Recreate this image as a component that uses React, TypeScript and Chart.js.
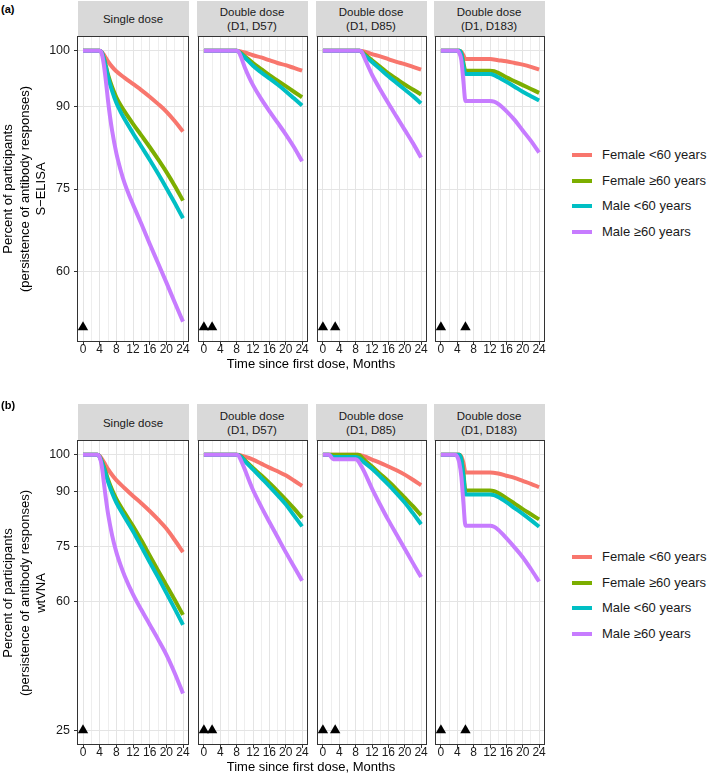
import React, { useEffect, useRef } from 'react';
import { Chart, registerables } from 'chart.js';

Chart.register(...registerables);

type Pt = [number, number];

const FONT = '"Liberation Sans", Arial, Helvetica, sans-serif';

const SERIES = ['Female <60 years', 'Female ≥60 years', 'Male <60 years', 'Male ≥60 years'];
const COLORS = ['#F8766D', '#7CAE00', '#00BFC4', '#C77CFF'];
const FACETS = [['Single dose'], ['Double dose', '(D1, D57)'], ['Double dose', '(D1, D85)'], ['Double dose', '(D1, D183)']];
const DOSE_MONTHS = [[0], [0, 2], [0, 3], [0, 6]];
const X_TICKS = [0, 4, 8, 12, 16, 20, 24];
const X_GRID = [0, 2, 4, 6, 8, 10, 12, 14, 16, 18, 20, 22, 24];
const Y_TICKS_A = [60, 75, 90, 100];
const Y_TICKS_B = [25, 60, 75, 90, 100];
const Y_TITLE_A = ['Percent of participants', '(persistence of antibody responses)', 'S−ELISA'];
const Y_TITLE_B = ['Percent of participants', '(persistence of antibody responses)', 'wtVNA'];
const X_TITLE = 'Time since first dose, Months';

// ---- (a) S-ELISA ----
const A1_F_U60: Pt[] = [[0, 100], [4, 100], [4.5, 99.8], [5, 99.3], [6, 98.1], [7, 97.1], [8, 96.3], [10, 95.1], [12, 94], [14, 92.9], [16, 91.7], [18, 90.4], [20, 89], [22, 87.3], [24, 85.4]];
const A1_F_60: Pt[] = [[0, 100], [4, 100], [4.5, 99.7], [5, 98.7], [5.5, 97.2], [6, 95.7], [7, 93.4], [8, 91.6], [9, 90.2], [10, 89], [12, 86.8], [14, 84.7], [16, 82.6], [18, 80.4], [20, 78.1], [22, 75.6], [24, 72.9]];
const A1_M_U60: Pt[] = [[0, 100], [4, 100], [4.5, 99.7], [5, 98.6], [5.5, 97], [6, 95.3], [7, 92.7], [8, 90.6], [9, 89], [10, 87.6], [12, 85.1], [14, 82.7], [16, 80.3], [18, 77.8], [20, 75.2], [22, 72.5], [24, 69.7]];
const A1_M_60: Pt[] = [[0, 100], [4, 100], [4.5, 99.5], [5, 97.5], [5.5, 94.5], [6, 91], [6.5, 88], [7, 85.5], [8, 81.5], [9, 78.5], [10, 76], [11, 74], [12, 72.2], [14, 68.7], [16, 65.1], [18, 61.6], [20, 58.1], [22, 54.5], [24, 51]];

const A2_F_U60: Pt[] = [[0, 100], [8, 100], [9, 99.9], [10, 99.7], [12, 99.2], [14, 98.8], [16, 98.3], [18, 97.8], [20, 97.4], [22, 96.9], [24, 96.4]];
const A2_F_60: Pt[] = [[0, 100], [8, 100], [9, 99.6], [10, 99], [12, 97.8], [14, 96.7], [16, 95.6], [18, 94.6], [20, 93.6], [22, 92.6], [24, 91.6]];
const A2_M_U60: Pt[] = [[0, 100], [8, 100], [9, 99.5], [10, 98.8], [12, 97.3], [14, 96.1], [16, 95], [18, 93.9], [20, 92.7], [22, 91.4], [24, 90.1]];
const A2_M_60: Pt[] = [[0, 100], [8, 100], [8.5, 99.8], [9, 99], [10, 97], [11, 95.3], [12, 93.8], [14, 91.3], [16, 89.1], [18, 87], [20, 84.9], [22, 82.6], [24, 80]];

const A3_F_U60: Pt[] = [[0, 100], [9, 100], [10, 99.9], [12, 99.4], [14, 99], [16, 98.5], [18, 98], [20, 97.6], [22, 97.1], [24, 96.6]];
const A3_F_60: Pt[] = [[0, 100], [9, 100], [10, 99.5], [12, 98.3], [14, 97.1], [16, 95.9], [18, 94.9], [20, 93.9], [22, 93], [24, 92.1]];
const A3_M_U60: Pt[] = [[0, 100], [9, 100], [10, 99.3], [12, 98], [14, 96.7], [16, 95.4], [18, 94.2], [20, 93], [22, 91.8], [24, 90.5]];
const A3_M_60: Pt[] = [[0, 100], [9, 100], [9.5, 99.8], [10, 99], [11, 97.3], [12, 95.7], [13, 94.3], [14, 93], [16, 90.5], [18, 88.1], [20, 85.7], [22, 83.3], [24, 80.7]];

const A4_F_U60: Pt[] = [[0, 100], [4.5, 100], [5, 99.8], [5.5, 99.2], [6, 98.5], [12, 98.5], [14, 98.3], [16, 98.1], [18, 97.8], [20, 97.5], [22, 97.1], [24, 96.6]];
const A4_F_60: Pt[] = [[0, 100], [4.5, 100], [5, 99.5], [5.5, 97.8], [6, 96.4], [12, 96.4], [13, 96.3], [14, 96], [16, 95.2], [18, 94.5], [20, 93.8], [22, 93.1], [24, 92.4]];
const A4_M_U60: Pt[] = [[0, 100], [4.5, 100], [5, 99.4], [5.5, 97.3], [6, 95.8], [12, 95.8], [13, 95.6], [14, 95.2], [16, 94.4], [18, 93.5], [20, 92.6], [22, 91.8], [24, 91]];
const A4_M_60: Pt[] = [[0, 100], [4, 100], [4.5, 99.6], [5, 98.3], [5.5, 94.5], [6, 90.9], [12, 90.9], [13, 90.8], [14, 90.4], [16, 89.1], [18, 87.5], [20, 85.6], [22, 83.7], [24, 81.6]];

// ---- (b) wtVNA ----
const B1_F_U60: Pt[] = [[0, 100], [3.5, 100], [4, 99.7], [5, 98], [6, 96.1], [7, 94.5], [8, 93.1], [10, 90.9], [12, 88.8], [14, 86.8], [16, 84.7], [18, 82.4], [20, 79.9], [22, 76.8], [24, 73.5]];
const B1_F_60: Pt[] = [[0, 100], [3.5, 100], [4, 99.5], [5, 96.8], [6, 93.3], [7, 90.4], [8, 88], [10, 84.2], [12, 80.6], [14, 76.7], [16, 72.6], [18, 68.5], [20, 64.5], [22, 60.5], [24, 56.4]];
const B1_M_U60: Pt[] = [[0, 100], [3.5, 100], [4, 99.4], [5, 96.4], [6, 92.7], [7, 89.6], [8, 87], [10, 83], [12, 79.2], [14, 75], [16, 70.8], [18, 66.7], [20, 62.4], [22, 58.1], [24, 53.7]];
const B1_M_60: Pt[] = [[0, 100], [3.5, 100], [4, 99.3], [4.5, 97], [5, 92.5], [5.5, 88], [6, 84], [7, 78], [8, 73.5], [9, 70], [10, 67], [12, 62], [14, 57.8], [16, 53.8], [18, 49.8], [20, 45.6], [22, 40.6], [24, 35]];

const B2_F_U60: Pt[] = [[0, 100], [8, 100], [10, 99.5], [12, 98.7], [14, 97.6], [16, 96.5], [18, 95.5], [20, 94.4], [22, 93], [24, 91.5]];
const B2_F_60: Pt[] = [[0, 100], [8, 100], [9, 99.6], [10, 98.5], [12, 96.4], [14, 94.4], [16, 92.3], [18, 90.1], [20, 87.8], [22, 85.4], [24, 82.8]];
const B2_M_U60: Pt[] = [[0, 100], [8, 100], [9, 99.5], [10, 98.3], [12, 96], [14, 93.7], [16, 91.4], [18, 89], [20, 86.5], [22, 83.5], [24, 80.5]];
const B2_M_60: Pt[] = [[0, 100], [8, 100], [8.5, 99.7], [9, 98.6], [10, 96], [11, 93.1], [12, 90.4], [14, 85.9], [16, 81.7], [18, 77.6], [20, 73.5], [22, 69.6], [24, 65.7]];

const B3_F_U60: Pt[] = [[0, 100], [8.5, 100], [10, 99.6], [12, 98.7], [14, 97.8], [16, 96.8], [18, 95.8], [20, 94.6], [22, 93.2], [24, 91.7]];
const B3_F_60: Pt[] = [[0, 100], [8.5, 100], [9, 99.8], [10, 98.7], [12, 96.8], [14, 94.8], [16, 92.8], [18, 90.6], [20, 88.3], [22, 86], [24, 83.5]];
const B3_M_U60: Pt[] = [[0, 100], [1.5, 100], [2.5, 99.4], [8, 99.4], [9, 99], [10, 98], [12, 96.2], [14, 94.1], [16, 91.9], [18, 89.5], [20, 87], [22, 84.1], [24, 81.1]];
const B3_M_60: Pt[] = [[0, 100], [1.5, 100], [2.5, 98.8], [8, 98.8], [8.5, 98.5], [9, 97.6], [10, 95.6], [12, 90.8], [14, 86.4], [16, 82.2], [18, 78.3], [20, 74.4], [22, 70.5], [24, 66.7]];

const B4_F_U60: Pt[] = [[0, 100], [4.5, 100], [5, 99.5], [5.5, 97.8], [6, 95.2], [12, 95.2], [14, 94.9], [16, 94.3], [18, 93.7], [20, 92.9], [22, 92.1], [24, 91.2]];
const B4_F_60: Pt[] = [[0, 100], [4.5, 100], [5, 98.8], [5.5, 95], [6, 90.3], [12, 90.3], [13, 90.1], [14, 89.6], [16, 88.2], [18, 86.7], [20, 85.2], [22, 83.8], [24, 82.4]];
const B4_M_U60: Pt[] = [[0, 100], [4.5, 100], [5, 98.6], [5.5, 94.2], [6, 89.2], [12, 89.2], [13, 89], [14, 88.5], [16, 87.1], [18, 85.5], [20, 83.9], [22, 82.2], [24, 80.4]];
const B4_M_60: Pt[] = [[0, 100], [3.5, 100], [4, 99.5], [4.5, 97.8], [5, 94], [5.5, 87], [6, 80.7], [12, 80.7], [13, 80.4], [14, 79.6], [16, 77.3], [18, 74.8], [20, 72.1], [22, 68.9], [24, 65.5]];

const ROW_A = [
  [A1_F_U60, A1_F_60, A1_M_U60, A1_M_60],
  [A2_F_U60, A2_F_60, A2_M_U60, A2_M_60],
  [A3_F_U60, A3_F_60, A3_M_U60, A3_M_60],
  [A4_F_U60, A4_F_60, A4_M_U60, A4_M_60],
];
const ROW_B = [
  [B1_F_U60, B1_F_60, B1_M_U60, B1_M_60],
  [B2_F_U60, B2_F_60, B2_M_U60, B2_M_60],
  [B3_F_U60, B3_F_60, B3_M_U60, B3_M_60],
  [B4_F_U60, B4_F_60, B4_M_U60, B4_M_60],
];

// ---- layout ----
const PANEL_LEFTS = [78, 197, 316, 434];
const PANEL_W = 110;
const Y_AXIS_W = 44;
const PAD_L = 4;
const PAD_R = 10;
const PAD_T = 6;
const X_AXIS_H = 22;

const borderPlugin = {
  id: 'panelBorder',
  afterDatasetsDraw(chart: any) {
    const { ctx, chartArea } = chart;
    ctx.save();
    ctx.strokeStyle = '#333333';
    ctx.lineWidth = 1;
    ctx.strokeRect(chartArea.left - 0.5, chartArea.top - 0.5, chartArea.right - chartArea.left + 1, chartArea.bottom - chartArea.top + 1);
    ctx.restore();
  },
};

interface PanelProps {
  col: number;
  left: number;
  top: number;
  height: number;
  series: Pt[][];
  yMin: number;
  yMax: number;
  yTicks: number[];
  triY: number;
}

function Panel({ col, left, top, height, series, yMin, yMax, yTicks, triY }: PanelProps) {
  const ref = useRef<HTMLCanvasElement>(null);
  const L = col === 0 ? Y_AXIS_W : PAD_L;
  const W = L + PANEL_W + PAD_R;
  const H = PAD_T + height + X_AXIS_H;

  useEffect(() => {
    if (!ref.current) return;
    const datasets: any[] = series.map((s, i) => ({
      type: 'line',
      label: SERIES[i],
      data: s.map(([x, y]) => ({ x, y })),
      borderColor: COLORS[i],
      backgroundColor: COLORS[i],
      borderWidth: 4,
      borderCapStyle: 'butt',
      borderJoinStyle: 'round',
      pointRadius: 0,
      cubicInterpolationMode: 'monotone',
      fill: false,
      order: 4 - i,
    }));
    datasets.push({
      type: 'scatter',
      label: 'dose',
      data: DOSE_MONTHS[col].map((x) => ({ x, y: triY })),
      pointStyle: 'triangle',
      pointRadius: 6,
      backgroundColor: '#000000',
      borderColor: '#000000',
      borderWidth: 0,
      order: -1,
    });
    const chart = new Chart(ref.current, {
      type: 'line',
      data: { datasets },
      plugins: [borderPlugin],
      options: {
        animation: false,
        responsive: false,
        devicePixelRatio: 1,
        events: [],
        layout: { padding: { left: col === 0 ? 0 : PAD_L, right: PAD_R, top: PAD_T, bottom: 0 } },
        plugins: { legend: { display: false }, tooltip: { enabled: false }, title: { display: false } },
        scales: {
          x: {
            type: 'linear',
            min: -1.2,
            max: 25.2,
            afterBuildTicks: (s: any) => {
              s.ticks = X_GRID.map((v) => ({ value: v }));
            },
            afterFit: (s: any) => {
              s.height = X_AXIS_H;
              s.paddingLeft = 0;
              s.paddingRight = 0;
            },
            ticks: {
              autoSkip: false,
              maxRotation: 0,
              minRotation: 0,
              padding: -1,
              color: '#1a1a1a',
              font: { family: FONT, size: 12, lineHeight: 1 },
              callback: (v: any) => (X_TICKS.includes(Number(v)) ? String(v) : ''),
            },
            grid: {
              color: (ctx: any) => (ctx.tick && ctx.tick.value % 4 === 0 ? '#E4E4E4' : '#EEEEEE'),
              tickColor: (ctx: any) => (ctx.tick && ctx.tick.value % 4 === 0 ? '#333333' : 'rgba(0,0,0,0)'),
              tickLength: 4,
              lineWidth: 1,
            },
            border: { display: false },
          },
          y: {
            type: 'linear',
            min: yMin,
            max: yMax,
            afterBuildTicks: (s: any) => {
              s.ticks = yTicks.map((v) => ({ value: v }));
            },
            afterFit: (s: any) => {
              s.width = col === 0 ? Y_AXIS_W : 0;
              s.paddingTop = 0;
              s.paddingBottom = 0;
            },
            ticks: {
              display: col === 0,
              padding: 4,
              color: '#1a1a1a',
              font: { family: FONT, size: 12.5 },
              callback: (v: any) => String(v),
            },
            grid: {
              color: '#E4E4E4',
              tickColor: '#333333',
              tickLength: col === 0 ? 4 : 0,
              drawTicks: col === 0,
              lineWidth: 1,
            },
            border: { display: false },
          },
        },
      } as any,
    });
    return () => chart.destroy();
  }, []);

  return (
    <canvas
      ref={ref}
      width={W}
      height={H}
      style={{ position: 'absolute', left: left - L, top: top - PAD_T, width: W, height: H }}
    />
  );
}

function Row({ rows, tag, tagTop, stripTop, panelTop, panelH, yMin, yMax, yTicks, triY, yTitle, legendTop }: any) {
  const stripH = panelTop - stripTop;
  const midY = panelTop + panelH / 2;
  return (
    <>
      <div style={{ position: 'absolute', left: 1, top: tagTop, fontSize: 11, fontWeight: 'bold', color: '#000' }}>{tag}</div>
      {FACETS.map((f, c) => (
        <div
          key={'s' + c}
          style={{
            position: 'absolute',
            left: PANEL_LEFTS[c] - 0.5,
            top: stripTop,
            width: PANEL_W + 1,
            height: stripH,
            background: '#D9D9D9',
            display: 'flex',
            flexDirection: 'column',
            justifyContent: 'center',
            alignItems: 'center',
            fontSize: 11.5,
            lineHeight: '14px',
            color: '#1a1a1a',
          }}
        >
          {f.map((t, i) => (
            <div key={i}>{t}</div>
          ))}
        </div>
      ))}
      {rows.map((series: Pt[][], c: number) => (
        <Panel
          key={'p' + c}
          col={c}
          left={PANEL_LEFTS[c]}
          top={panelTop}
          height={panelH}
          series={series}
          yMin={yMin}
          yMax={yMax}
          yTicks={yTicks}
          triY={triY}
        />
      ))}
      <div
        style={{
          position: 'absolute',
          left: 24.5 - 150,
          top: midY - 25,
          width: 300,
          height: 50,
          transform: 'rotate(-90deg)',
          textAlign: 'center',
          fontSize: 13,
          lineHeight: '16.5px',
          color: '#000',
        }}
      >
        {yTitle.map((t: string, i: number) => (
          <div key={i}>{t}</div>
        ))}
      </div>
      <div
        style={{
          position: 'absolute',
          left: 311 - 150,
          top: panelTop + panelH + 15,
          width: 300,
          textAlign: 'center',
          fontSize: 13,
          lineHeight: '16px',
          color: '#000',
        }}
      >
        {X_TITLE}
      </div>
      {SERIES.map((s, i) => (
        <React.Fragment key={'l' + i}>
          <div
            style={{
              position: 'absolute',
              left: 572,
              top: legendTop + i * 25.7 - 2,
              width: 20,
              height: 4,
              background: COLORS[i],
            }}
          />
          <div
            style={{
              position: 'absolute',
              left: 602,
              top: legendTop + i * 25.7 - 8,
              fontSize: 13,
              lineHeight: '16px',
              color: '#1a1a1a',
              whiteSpace: 'nowrap',
            }}
          >
            {s}
          </div>
        </React.Fragment>
      ))}
    </>
  );
}

export default function App() {
  return (
    <div
      style={{
        position: 'absolute',
        left: 0,
        top: 0,
        width: 709,
        height: 782,
        background: '#ffffff',
        fontFamily: FONT,
        overflow: 'hidden',
      }}
    >
      <Row
        rows={ROW_A}
        tag="(a)"
        tagTop={3}
        stripTop={1}
        panelTop={37}
        panelH={304}
        yMin={47.5}
        yMax={102.5}
        yTicks={Y_TICKS_A}
        triY={50}
        yTitle={Y_TITLE_A}
        legendTop={155}
      />
      <Row
        rows={ROW_B}
        tag="(b)"
        tagTop={399}
        stripTop={404}
        panelTop={441}
        panelH={303}
        yMin={21.25}
        yMax={103.75}
        yTicks={Y_TICKS_B}
        triY={25}
        yTitle={Y_TITLE_B}
        legendTop={557}
      />
    </div>
  );
}
